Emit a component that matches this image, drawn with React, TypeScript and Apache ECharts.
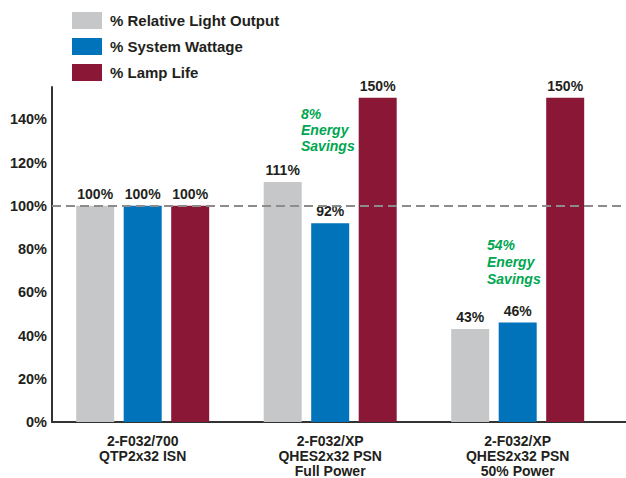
import React, { useEffect, useRef } from "react";
import * as echarts from "echarts";

const categories = [
  "2-F032/700\nQTP2x32 ISN",
  "2-F032/XP\nQHES2x32 PSN\nFull Power",
  "2-F032/XP\nQHES2x32 PSN\n50% Power",
];
const seriesNames = ["% Relative Light Output", "% System Wattage", "% Lamp Life"];
const lightOutput = [100, 111, 43];
const systemWattage = [100, 92, 46];
const lampLife = [100, 150, 150];
const yTicks = [0, 20, 40, 60, 80, 100, 120, 140];
const referenceValue = 100;
const annotations = ["8%\nEnergy\nSavings", "54%\nEnergy\nSavings"];

const FONT = "'Liberation Sans', Arial, Helvetica, sans-serif";
const DARK = "#231F20";
const COLORS = ["#C6C7C9", "#0073BA", "#8B1736"];
const GREEN = "#00A651";

export default function App() {
  const ref = useRef<HTMLDivElement>(null);
  useEffect(() => {
    document.body.style.margin = "0";
    if (!ref.current) return;
    const chart = echarts.init(ref.current, null, { renderer: "svg" });
    const allSeries = [lightOutput, systemWattage, lampLife];
    const series: any[] = allSeries.map((vals, si) => ({
      name: seriesNames[si],
      type: "bar",
      data: vals.map((v, i) => [i, v]),
      barWidth: 38,
      barGap: "25%",
      itemStyle: { color: COLORS[si] },
      label: {
        show: true,
        position: "top",
        distance: 5,
        formatter: (p: any) => p.value[1] + "%",
        fontFamily: FONT,
        fontWeight: "bold",
        fontSize: 14,
        color: DARK,
      },
      markLine:
        si === 0
          ? {
              silent: true,
              symbol: "none",
              label: { show: false },
              lineStyle: { color: "#8C8C8C", type: [9, 5], width: 2 },
              data: [{ yAxis: referenceValue }],
            }
          : undefined,
    }));

    chart.setOption({
      animation: false,
      textStyle: { fontFamily: FONT },
      legend: {
        orient: "vertical",
        left: 72,
        top: 12,
        padding: 0,
        itemWidth: 30,
        itemHeight: 17,
        itemGap: 9,
        icon: "rect",
        data: seriesNames,
        textStyle: {
          fontFamily: FONT,
          fontWeight: "bold",
          fontSize: 15,
          color: DARK,
          padding: [0, 0, 0, 3],
        },
      },
      grid: { left: 52, right: 0, top: 87, bottom: 54, containLabel: false },
      xAxis: {
        type: "value",
        min: -0.4837,
        max: 2.5776,
        axisLine: { show: true, onZero: false, lineStyle: { color: "#333", width: 2 } },
        axisTick: { show: false },
        splitLine: { show: false },
        axisLabel: {
          customValues: [0, 1, 2],
          formatter: (v: number) => categories[Math.round(v)] ?? "",
          fontFamily: FONT,
          fontWeight: "bold",
          fontSize: 14,
          lineHeight: 15,
          color: DARK,
          margin: 11,
          verticalAlign: "top",
        },
      },
      yAxis: {
        type: "value",
        min: 0,
        max: 155,
        interval: 20,
        axisLine: { show: true, onZero: false, lineStyle: { color: "#333", width: 2 } },
        axisTick: { show: false },
        splitLine: { show: false },
        axisLabel: {
          customValues: yTicks,
          formatter: (v: number) => v + "%",
          fontFamily: FONT,
          fontWeight: "bold",
          fontSize: 14.5,
          color: DARK,
          margin: 5,
        },
      },
      graphic: [
        {
          type: "text",
          left: 301,
          top: 106,
          z: 100,
          style: {
            text: annotations[0],
            fill: GREEN,
            font: `italic bold 14px ${FONT}`,
            lineHeight: 16,
          },
        },
        {
          type: "text",
          left: 487,
          top: 236,
          z: 100,
          style: {
            text: annotations[1],
            fill: GREEN,
            font: `italic bold 14px ${FONT}`,
            lineHeight: 17,
          },
        },
      ],
      series,
    });
    return () => chart.dispose();
  }, []);
  return <div ref={ref} style={{ width: 626, height: 478 }} />;
}
